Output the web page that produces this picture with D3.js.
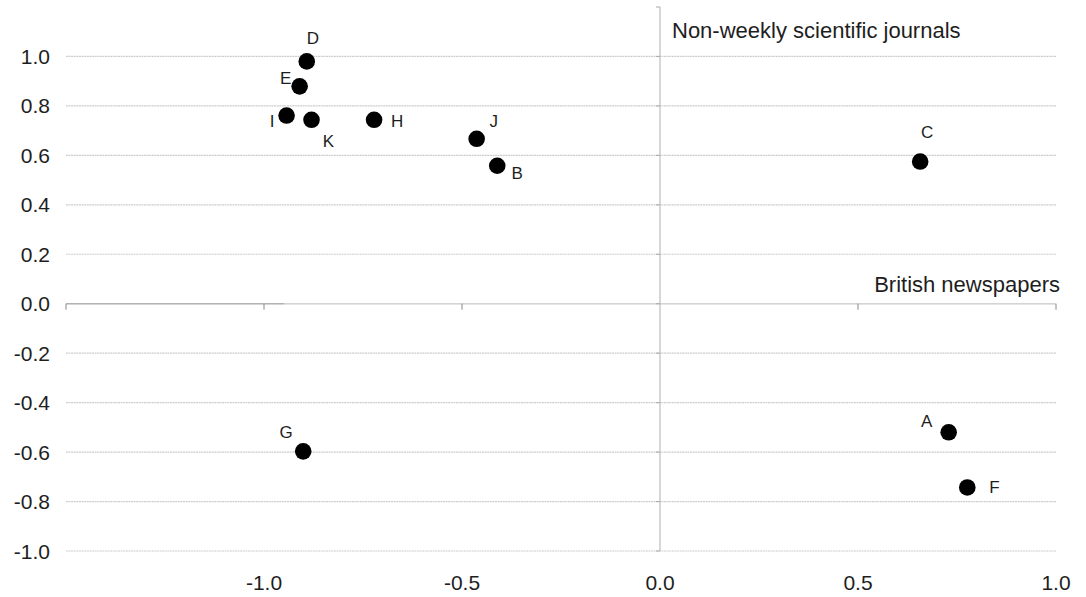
<!DOCTYPE html>
<html>
<head>
<meta charset="utf-8">
<script src="https://cdn.jsdelivr.net/npm/d3@7"></script>
<style>
  html, body { margin: 0; padding: 0; background: #fff; }
  svg text { font-family: "Liberation Sans", Arial, sans-serif; fill: #1e1e1e; }
</style>
</head>
<body>
<svg id="chart" width="1086" height="597"></svg>
<script>
// Point labels and their coordinates on the two dimensions
const labels = ["A", "B", "C", "D", "E", "F", "G", "H", "I", "J", "K"];
const xValues = [0.729, -0.411, 0.657, -0.892, -0.910, 0.776, -0.901, -0.722, -0.943, -0.463, -0.880];
const yValues = [-0.520, 0.558, 0.575, 0.980, 0.879, -0.743, -0.597, 0.744, 0.761, 0.667, 0.744];

const xTicks = [-1.0, -0.5, 0.0, 0.5, 1.0];
const yTicks = [1.0, 0.8, 0.6, 0.4, 0.2, 0.0, -0.2, -0.4, -0.6, -0.8, -1.0];
const quadrantNotes = ["Non-weekly scientific journals", "British newspapers"];

// label offsets from each point centre (px): [dx, baseline dy, anchor]
const labelOffset = {
  A: [-22, -5, "middle"],
  B: [20, 13, "middle"],
  C: [7, -24, "middle"],
  D: [6, -17, "middle"],
  E: [-14, -2, "middle"],
  F: [22, 6, "start"],
  G: [-17, -13, "middle"],
  H: [17, 7, "start"],
  I: [-12, 11, "end"],
  J: [17, -12, "middle"],
  K: [17, 27, "middle"]
};

const svg = d3.select("#chart");
const x = d3.scaleLinear().domain([-1.5, 1.0]).range([66, 1056]);
const y = d3.scaleLinear().domain([-1.0, 1.2]).range([551, 7]);
// plain hyphen for negative numbers
const fmt = d3.formatLocale({ decimal: ".", thousands: ",", grouping: [3], currency: ["", ""], minus: "-" }).format(".1f");

// horizontal gridlines
svg.append("g").selectAll("line").data(yTicks).join("line")
  .attr("x1", x(-1.5)).attr("x2", x(1.0))
  .attr("y1", d => y(d)).attr("y2", d => y(d))
  .attr("stroke", "#cdcdcd").attr("stroke-width", 1.2)
  .attr("stroke-dasharray", "2,0.6");

// horizontal axis through y = 0
const xAxisG = svg.append("g").attr("transform", `translate(0,${y(0)})`);
xAxisG.append("line").attr("x1", x(-1.5)).attr("x2", x(1.0))
  .attr("stroke", "#d4d4d4").attr("stroke-width", 1.5);
xAxisG.append("line").attr("x1", x(-1.5)).attr("x2", x(-0.949))
  .attr("stroke", "#a8a8a8").attr("stroke-width", 1.2);
xAxisG.selectAll("line.tick").data([-1.5, -1.0, -0.5, 0.5, 1.0]).join("line")
  .attr("class", "tick")
  .attr("x1", d => x(d)).attr("x2", d => x(d))
  .attr("y1", 0).attr("y2", 6)
  .attr("stroke", "#888").attr("stroke-width", 1);

// vertical axis through x = 0
const yAxisG = svg.append("g").attr("transform", `translate(${x(0)},0)`);
yAxisG.append("line").attr("y1", y(1.2)).attr("y2", y(-1.0))
  .attr("stroke", "#bdbdbd").attr("stroke-width", 1.2);
yAxisG.selectAll("line.tick").data(yTicks.concat([1.2])).join("line")
  .attr("class", "tick")
  .attr("x1", -4).attr("x2", 0)
  .attr("y1", d => y(d)).attr("y2", d => y(d))
  .attr("stroke", "#aaa").attr("stroke-width", 1);

// tick labels
svg.append("g").selectAll("text").data(yTicks).join("text")
  .attr("x", 50).attr("y", d => y(d))
  .attr("dy", "0.36em")
  .attr("text-anchor", "end")
  .attr("font-size", 21)
  .text(d => fmt(d));

svg.append("g").selectAll("text").data(xTicks).join("text")
  .attr("x", d => x(d)).attr("y", 590)
  .attr("text-anchor", "middle")
  .attr("font-size", 21)
  .text(d => fmt(d));

// quadrant notes
svg.append("text").attr("x", x(0) + 12).attr("y", 38)
  .attr("font-size", 22).text(quadrantNotes[0]);
svg.append("text").attr("x", x(1.0) + 4).attr("y", 292)
  .attr("text-anchor", "end")
  .attr("font-size", 22).text(quadrantNotes[1]);

// points
const pts = labels.map((l, i) => ({ label: l, x: xValues[i], y: yValues[i] }));

svg.append("g").selectAll("circle").data(pts).join("circle")
  .attr("cx", d => x(d.x)).attr("cy", d => y(d.y))
  .attr("r", 8.3).attr("fill", "#000");

svg.append("g").selectAll("text").data(pts).join("text")
  .attr("x", d => x(d.x) + labelOffset[d.label][0])
  .attr("y", d => y(d.y) + labelOffset[d.label][1])
  .attr("text-anchor", d => labelOffset[d.label][2])
  .attr("font-size", 17)
  .text(d => d.label);
</script>
</body>
</html>
